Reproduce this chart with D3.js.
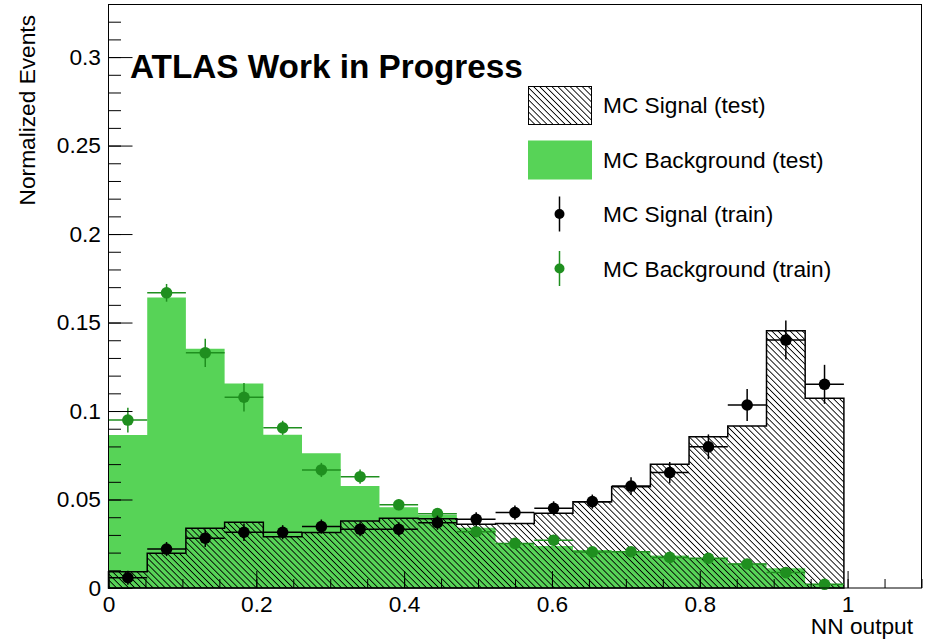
<!DOCTYPE html>
<html>
<head>
<meta charset="utf-8">
<script src="https://cdn.jsdelivr.net/npm/d3@7"></script>
<style>
  html, body { margin: 0; padding: 0; background: #fff; }
  svg { display: block; }
  text { font-family: "Liberation Sans", Arial, Helvetica, sans-serif; fill: #000; }
</style>
</head>
<body>
<svg id="chart" width="928" height="641"></svg>
<script>
// NN output histogram: 19 bins
const binEdges = [0, 0.0524, 0.1047, 0.1571, 0.2095, 0.2618, 0.3142, 0.3666, 0.4189, 0.4713,
                  0.5237, 0.5761, 0.6284, 0.6808, 0.7332, 0.7855, 0.8379, 0.8903, 0.9426, 0.995];

// test samples (histograms)
const signalTest = [0.0092, 0.0196, 0.0337, 0.0371, 0.0290, 0.0313, 0.0378, 0.0394, 0.0392, 0.0360,
                    0.0364, 0.0422, 0.0488, 0.0572, 0.0699, 0.0855, 0.0915, 0.1454, 0.1072];
const backgroundTest = [0.0864, 0.1642, 0.1352, 0.1156, 0.0866, 0.0761, 0.0576, 0.0456, 0.0412, 0.0340,
                        0.0252, 0.0237, 0.0215, 0.0205, 0.0183, 0.0168, 0.0139, 0.0111, 0.0017];

// training samples (points with errors)
const signalTrain = [0.0058, 0.0220, 0.0281, 0.0315, 0.0315, 0.0347, 0.0332, 0.0332, 0.0369, 0.0388,
                     0.0426, 0.0450, 0.0488, 0.0576, 0.0652, 0.0798, 0.1034, 0.1401, 0.1151];
const signalTrainErr = [0.004, 0.004, 0.005, 0.005, 0.004, 0.004, 0.004, 0.004, 0.004, 0.004,
                        0.004, 0.004, 0.004, 0.005, 0.006, 0.007, 0.009, 0.011, 0.011];
const backgroundTrain = [0.0949, 0.1668, 0.1329, 0.1078, 0.0905, 0.0667, 0.0629, 0.0470, 0.0420, 0.0318,
                         0.0252, 0.0270, 0.0204, 0.0205, 0.0173, 0.0168, 0.0136, 0.0087, 0.0021];
const backgroundTrainErr = [0.007, 0.005, 0.008, 0.008, 0.004, 0.004, 0.004, 0.003, 0.003, 0.003,
                            0.003, 0.003, 0.002, 0.002, 0.002, 0.002, 0.002, 0.002, 0.002];

// axes
const xMajorTicks = [0, 0.2, 0.4, 0.6, 0.8, 1];
const xTickLabels = ["0", "0.2", "0.4", "0.6", "0.8", "1"];
const yMajorTicks = [0, 0.05, 0.1, 0.15, 0.2, 0.25, 0.3];
const yTickLabels = ["0", "0.05", "0.1", "0.15", "0.2", "0.25", "0.3"];
const xTitle = "NN output";
const yTitle = "Normalized Events";
const atlasLabel = "ATLAS Work in Progress";
const legendLabels = ["MC Signal (test)", "MC Background (test)", "MC Signal (train)", "MC Background (train)"];

const colGreenFill = "#57d357";
const colGreenMark = "#1f8f1f";
const fontSize = "22.7px";

const svg = d3.select("#chart");
const frame = { left: 108.5, right: 921.5, top: 4, bottom: 588 };

const x = d3.scaleLinear().domain([0, 1.1]).range([frame.left, frame.right]);
const y = d3.scaleLinear().domain([0, 0.33]).range([frame.bottom, frame.top]);

// hatch pattern "\\\\" for signal
const defs = svg.append("defs");
const hatch = defs.append("pattern")
  .attr("id", "hatch")
  .attr("patternUnits", "userSpaceOnUse")
  .attr("width", 10).attr("height", 4.3)
  .attr("patternTransform", "rotate(45)");
hatch.append("line")
  .attr("x1", 0).attr("x2", 10).attr("y1", 2.15).attr("y2", 2.15)
  .attr("stroke", "#000").attr("stroke-width", 0.9);

// step outline of a histogram
function stepPath(vals) {
  let p = `M${x(binEdges[0])},${y(0)}`;
  vals.forEach((v, i) => {
    p += `V${y(v)}H${x(binEdges[i + 1])}`;
  });
  p += `V${y(0)}Z`;
  return p;
}

const plot = svg.append("g");

// background (test): solid green
plot.append("path")
  .attr("d", stepPath(backgroundTest))
  .attr("fill", colGreenFill)
  .attr("stroke", "none");

// signal (test): hatched with black outline
plot.append("path")
  .attr("d", stepPath(signalTest))
  .attr("fill", "url(#hatch)")
  .attr("stroke", "#000")
  .attr("stroke-width", 1.5)
  .attr("stroke-linejoin", "miter");

// training points with error bars
function drawPoints(vals, errs, color) {
  const g = plot.append("g");
  vals.forEach((v, i) => {
    const x0 = x(binEdges[i]), x1 = x(binEdges[i + 1]);
    const xc = (x0 + x1) / 2;
    g.append("line")
      .attr("x1", x0).attr("x2", x1).attr("y1", y(v)).attr("y2", y(v))
      .attr("stroke", color).attr("stroke-width", 1.5);
    g.append("line")
      .attr("x1", xc).attr("x2", xc).attr("y1", y(v - errs[i])).attr("y2", y(v + errs[i]))
      .attr("stroke", color).attr("stroke-width", 1.5);
    g.append("circle")
      .attr("cx", xc).attr("cy", y(v)).attr("r", 5.8)
      .attr("fill", color);
  });
}
drawPoints(backgroundTrain, backgroundTrainErr, colGreenMark);
drawPoints(signalTrain, signalTrainErr, "#000");

// frame
svg.append("rect")
  .attr("x", frame.left).attr("y", frame.top + 0.5)
  .attr("width", frame.right - frame.left).attr("height", frame.bottom - frame.top - 0.5)
  .attr("fill", "none").attr("stroke", "#000").attr("stroke-width", 1);

// y axis: major ticks + labels, minor ticks (pointing inward)
const yMinor = d3.range(0, 0.3251, 0.01).map(v => +v.toFixed(2));
const yAxisMinor = svg.append("g").attr("transform", `translate(${frame.left},0)`)
  .call(d3.axisLeft(y).tickValues(yMinor).tickSize(-12.5).tickFormat(""));
const yAxisMajor = svg.append("g").attr("transform", `translate(${frame.left},0)`)
  .call(d3.axisLeft(y).tickValues(yMajorTicks).tickSize(-24).tickPadding(7.5)
        .tickFormat((d, i) => yTickLabels[i]));

// x axis: major ticks + labels, minor ticks (pointing inward)
const xMinor = d3.range(0, 1.1001, 0.05).map(v => +v.toFixed(2));
const xAxisMinor = svg.append("g").attr("transform", `translate(0,${frame.bottom})`)
  .call(d3.axisBottom(x).tickValues(xMinor).tickSize(-9).tickFormat(""));
const xAxisMajor = svg.append("g").attr("transform", `translate(0,${frame.bottom})`)
  .call(d3.axisBottom(x).tickValues(xMajorTicks).tickSize(-17).tickPadding(8)
        .tickFormat((d, i) => xTickLabels[i]));

[yAxisMinor, yAxisMajor, xAxisMinor, xAxisMajor].forEach(g => {
  g.select(".domain").remove();
  g.selectAll(".tick line").attr("stroke", "#000").attr("stroke-width", 1);
  g.selectAll(".tick text")
    .style("font-family", '"Liberation Sans", Arial, Helvetica, sans-serif')
    .style("font-size", fontSize).attr("fill", "#000");
});

// axis titles
svg.append("text")
  .attr("x", 913).attr("y", 634)
  .attr("text-anchor", "end")
  .style("font-size", fontSize)
  .text(xTitle);

svg.append("text")
  .attr("transform", "translate(35,15) rotate(-90)")
  .attr("text-anchor", "end")
  .style("font-size", fontSize)
  .text(yTitle);

// experiment label
svg.append("text")
  .attr("x", 130).attr("y", 78)
  .style("font-size", "33.3px").style("font-weight", "bold")
  .text(atlasLabel);

// legend
const legend = svg.append("g");
const legRows = [105, 159.5, 214, 268.5];
const boxX = 528, boxW = 63, boxH = 38, markX = 559.5, textX = 603;

legend.append("rect")
  .attr("x", boxX + 0.5).attr("y", legRows[0] - boxH / 2 + 0.5)
  .attr("width", boxW).attr("height", boxH)
  .attr("fill", "url(#hatch)").attr("stroke", "#000").attr("stroke-width", 1);

legend.append("rect")
  .attr("x", boxX).attr("y", legRows[1] - boxH / 2)
  .attr("width", boxW + 1).attr("height", boxH + 1)
  .attr("fill", colGreenFill);

[[legRows[2], "#000"], [legRows[3], colGreenMark]].forEach(([cy, col]) => {
  legend.append("line")
    .attr("x1", markX).attr("x2", markX).attr("y1", cy - 17.5).attr("y2", cy + 17.5)
    .attr("stroke", col).attr("stroke-width", 1.5);
  legend.append("circle")
    .attr("cx", markX).attr("cy", cy).attr("r", 5).attr("fill", col);
});

legend.selectAll("text.leg")
  .data(legendLabels)
  .join("text")
  .attr("class", "leg")
  .attr("x", textX)
  .attr("y", (d, i) => legRows[i] + 8)
  .style("font-size", fontSize)
  .text(d => d);
</script>
</body>
</html>
